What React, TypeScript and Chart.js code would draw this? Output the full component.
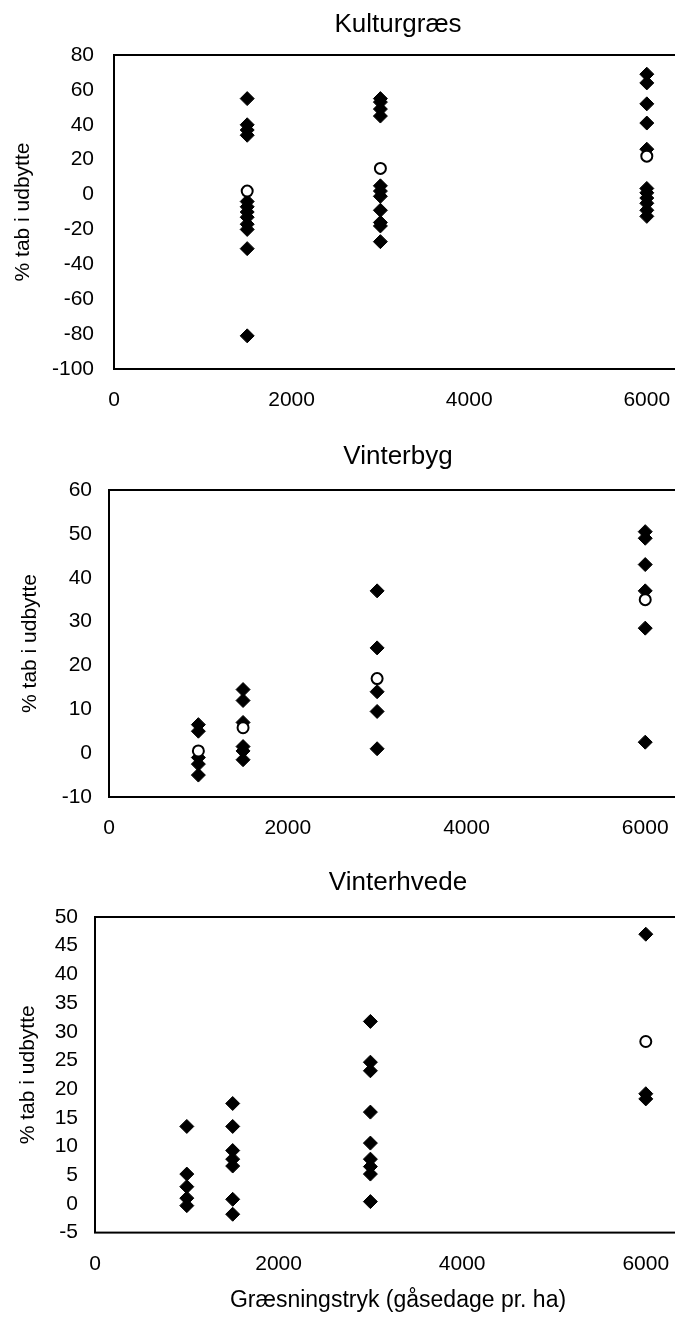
import React, { useEffect, useRef } from "react";
import { Chart, registerables } from "chart.js";

Chart.register(...registerables);

const FONT = "'Liberation Sans', Arial, Helvetica, sans-serif";

const xTicks = [0, 2000, 4000, 6000];
const yAxisTitle = "% tab i udbytte";
const xAxisTitle = "Græsningstryk (gåsedage pr. ha)";

// Kulturgræs
const kgTitle = "Kulturgræs";
const kgX = [1500, 1500, 1500, 1500, 1500, 1500, 1500, 1500, 1500, 1500, 1500, 1500,
  3000, 3000, 3000, 3000, 3000, 3000, 3000, 3000, 3000, 3000, 3000,
  6000, 6000, 6000, 6000, 6000, 6000, 6000, 6000, 6000, 6000, 6000];
const kgY = [55, 40, 37, 34, -4, -7, -10, -13, -17, -20, -31, -81,
  55, 53, 49, 45, 5, 2, -1, -9, -16, -18, -27,
  69, 64, 52, 41, 26, 3.5, 1, -2, -5, -9, -12.5];
const kgMeanX = [1500, 3000, 6000];
const kgMeanY = [2, 15, 22];
const kgYTicks = [-100, -80, -60, -40, -20, 0, 20, 40, 60, 80];

// Vinterbyg
const vbTitle = "Vinterbyg";
const vbX = [1000, 1000, 1000, 1000, 1000,
  1500, 1500, 1500, 1500, 1500, 1500,
  3000, 3000, 3000, 3000, 3000,
  6000, 6000, 6000, 6000, 6000, 6000];
const vbY = [6.5, 5, -1, -2.5, -5,
  14.5, 12, 7, 1.5, 0.5, -1.5,
  37, 24, 14, 9.5, 1,
  50.5, 49, 43, 37, 28.5, 2.5];
const vbMeanX = [1000, 1500, 3000, 6000];
const vbMeanY = [0.5, 5.8, 17, 35];
const vbYTicks = [-10, 0, 10, 20, 30, 40, 50, 60];

// Vinterhvede
const vhTitle = "Vinterhvede";
const vhX = [1000, 1000, 1000, 1000, 1000,
  1500, 1500, 1500, 1500, 1500, 1500, 1500,
  3000, 3000, 3000, 3000, 3000, 3000, 3000, 3000, 3000,
  6000, 6000, 6000];
const vhY = [13.5, 5.2, 3, 1, -0.3,
  17.5, 13.5, 9.3, 7.8, 6.6, 0.8, -1.8,
  31.8, 24.7, 23.2, 16, 10.6, 7.8, 6.5, 5.2, 0.4,
  47, 19.2, 18.3];
const vhMeanX = [6000];
const vhMeanY = [28.3];
const vhYTicks = [-5, 0, 5, 10, 15, 20, 25, 30, 35, 40, 45, 50];

const framePlugin = {
  id: "frame",
  beforeDatasetsDraw(chart: any) {
    const { ctx, chartArea } = chart;
    ctx.save();
    ctx.strokeStyle = "#000";
    ctx.lineWidth = 2;
    ctx.strokeRect(chartArea.left, chartArea.top, chartArea.right - chartArea.left, chartArea.bottom - chartArea.top);
    ctx.restore();
  },
};

type Spec = {
  title: string;
  xs: number[];
  ys: number[];
  mx: number[];
  my: number[];
  yTicks: number[];
  xMax: number;
  width: number;
  height: number;
  top: number;
  yAxisWidth: number;
  xAxisHeight: number;
  titlePad: { top: number; bottom: number };
  yTitlePad: number;
  yTickPad: number;
  showXTitle: boolean;
};

function ScatterPanel({ spec }: { spec: Spec }) {
  const ref = useRef<HTMLCanvasElement | null>(null);
  useEffect(() => {
    if (!ref.current) return;
    const pts = spec.xs.map((x, i) => ({ x, y: spec.ys[i] }));
    const means = spec.mx.map((x, i) => ({ x, y: spec.my[i] }));
    const chart = new Chart(ref.current, {
      type: "scatter",
      data: {
        datasets: [
          {
            label: "mean",
            data: means,
            pointStyle: "circle",
            pointRadius: 5.5,
            pointBackgroundColor: "#fff",
            pointBorderColor: "#000",
            pointBorderWidth: 2,
          },
          {
            label: "obs",
            data: pts,
            pointStyle: "rectRot",
            pointRadius: 7,
            pointBackgroundColor: "#000",
            pointBorderColor: "#000",
            pointBorderWidth: 1,
          },
        ],
      },
      options: {
        responsive: false,
        animation: false,
        layout: { padding: 0 },
        plugins: {
          legend: { display: false },
          tooltip: { enabled: false },
          title: {
            display: true,
            text: spec.title,
            color: "#000",
            font: { family: FONT, size: 26, weight: "normal" },
            padding: spec.titlePad,
          },
          subtitle: {
            display: spec.showXTitle,
            position: "bottom",
            text: xAxisTitle,
            color: "#000",
            font: { family: FONT, size: 23, weight: "normal" },
            padding: { top: 4, bottom: 5 },
          },
        },
        scales: {
          x: {
            type: "linear",
            min: 0,
            max: spec.xMax,
            grid: { display: false, drawTicks: false },
            border: { display: false },
            afterBuildTicks: (scale: any) => {
              scale.ticks = xTicks.map((v) => ({ value: v }));
            },
            afterFit: (scale: any) => {
              scale.height = spec.xAxisHeight;
            },
            ticks: {
              color: "#000",
              padding: 19,
              font: { family: FONT, size: 21 },
              callback: (v: any) => String(v),
            },
          },
          y: {
            type: "linear",
            min: spec.yTicks[0],
            max: spec.yTicks[spec.yTicks.length - 1],
            grid: { display: false, drawTicks: false },
            border: { display: false },
            afterBuildTicks: (scale: any) => {
              scale.ticks = spec.yTicks.map((v) => ({ value: v }));
            },
            afterFit: (scale: any) => {
              scale.width = spec.yAxisWidth;
            },
            ticks: {
              color: "#000",
              padding: spec.yTickPad,
              font: { family: FONT, size: 21 },
              callback: (v: any) => String(v),
            },
            title: {
              display: true,
              text: yAxisTitle,
              color: "#000",
              font: { family: FONT, size: 21 },
              padding: { top: spec.yTitlePad, bottom: 0 },
            },
          },
        },
      },
      plugins: [framePlugin],
    } as any);
    return () => chart.destroy();
  }, [spec]);
  return (
    <canvas
      ref={ref}
      width={spec.width}
      height={spec.height}
      style={{ position: "absolute", left: 0, top: spec.top, width: spec.width, height: spec.height }}
    />
  );
}

const specs: Spec[] = [
  {
    title: kgTitle, xs: kgX, ys: kgY, mx: kgMeanX, my: kgMeanY, yTicks: kgYTicks,
    xMax: 7500, width: 780, height: 406, top: 0, yAxisWidth: 106, xAxisHeight: 45,
    titlePad: { top: 1.4, bottom: 14.4 }, yTitlePad: 2.4, yTickPad: 20, showXTitle: false,
  },
  {
    title: vbTitle, xs: vbX, ys: vbY, mx: vbMeanX, my: vbMeanY, yTicks: vbYTicks,
    xMax: 7508, width: 780, height: 412, top: 422, yAxisWidth: 101, xAxisHeight: 45,
    titlePad: { top: 11.4, bottom: 17.4 }, yTitlePad: 9.4, yTickPad: 17, showXTitle: false,
  },
  {
    title: vhTitle, xs: vhX, ys: vhY, mx: vhMeanX, my: vhMeanY, yTicks: vhYTicks,
    xMax: 7462, width: 780, height: 464, top: 847, yAxisWidth: 87, xAxisHeight: 49.8,
    titlePad: { top: 12.4, bottom: 18.4 }, yTitlePad: 7.4, yTickPad: 17, showXTitle: true,
  },
];

export default function App() {
  return (
    <div style={{ position: "relative", width: 675, height: 1311, overflow: "hidden", background: "#fff" }}>
      {specs.map((s, i) => (
        <ScatterPanel key={i} spec={s} />
      ))}
    </div>
  );
}
